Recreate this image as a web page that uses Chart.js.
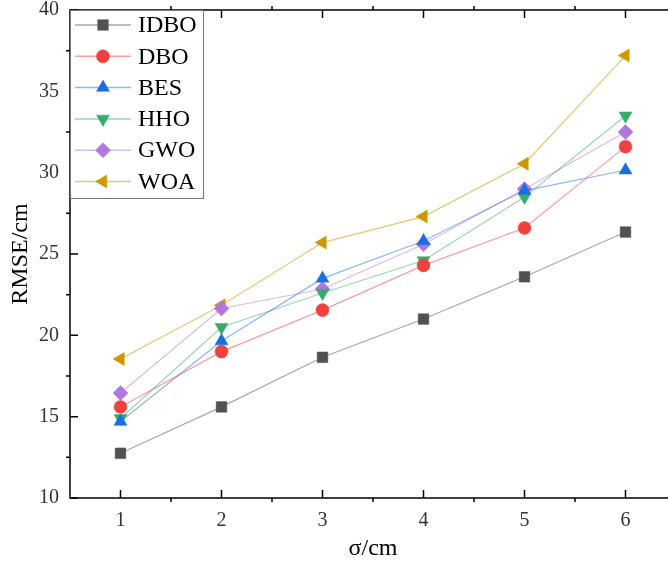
<!DOCTYPE html>
<html>
<head>
<meta charset="utf-8">
<script src="https://cdn.jsdelivr.net/npm/chart.js@4.4.0/dist/chart.umd.min.js"></script>
<style>
  html, body { margin: 0; padding: 0; background: #fff; overflow: hidden; }
  #wrap { width: 668px; height: 567px; overflow: hidden; }
</style>
</head>
<body>
<div id="wrap"><canvas id="rmse_canvas" width="684" height="567"></canvas></div>
<script>
// sigma values (x) and RMSE per algorithm
var sigma = [1, 2, 3, 4, 5, 6];
var names = ["IDBO", "DBO", "BES", "HHO", "GWO", "WOA"];
var idbo = [12.75, 15.6, 18.65, 21.0, 23.6, 26.35];
var dbo  = [15.6, 19.0, 21.55, 24.3, 26.6, 31.6];
var bes  = [14.7, 19.65, 23.5, 25.8, 28.9, 30.15];
var hho  = [14.9, 20.5, 22.6, 24.6, 28.5, 33.5];
var gwo  = [16.45, 21.65, 22.85, 25.6, 29.0, 32.5];
var woa  = [18.55, 21.85, 25.7, 27.3, 30.55, 37.2];
var yTicks = [10, 15, 20, 25, 30, 35, 40];

var colors = ["#515151", "#F14040", "#1A6FDF", "#37AD6B", "#B177DE", "#CC9900"];
var lineColors = ["rgba(81,81,81,0.5)", "rgba(241,64,64,0.5)", "rgba(26,111,223,0.5)",
                  "rgba(55,173,107,0.5)", "rgba(177,119,222,0.5)", "rgba(204,153,0,0.55)"];
var styles = ["rect", "circle", "triangle", "triangle", "rectRot", "triangle"];
var rotations = [0, 0, 0, 180, 0, -90];
var radii = [7.5, 6.5, 7.5, 7.5, 7.5, 7.5];
var series = [idbo, dbo, bes, hho, gwo, woa];

function toPts(arr){
    var out = [];
    for (var i in arr) out.push({x: sigma[i], y: arr[i]});
    return out;
}

var datasets = [];
for (var k = 0; k < series.length; k++) {
    datasets.push({
        label: names[k],
        data: toPts(series[k]),
        borderColor: lineColors[k],
        borderWidth: 1.2,
        backgroundColor: colors[k],
        pointBackgroundColor: colors[k],
        pointBorderColor: colors[k],
        pointBorderWidth: 0.5,
        pointStyle: styles[k],
        pointRotation: rotations[k],
        pointRadius: radii[k],
        fill: false,
        tension: 0
    });
}

// frame with ticks: major inward, minor outward
var framePlugin = {
    id: 'frame',
    afterDatasetsDraw: function(chart){
        var ctx = chart.ctx, a = chart.chartArea;
        var xs = chart.scales.x, ys = chart.scales.y;
        ctx.save();
        ctx.strokeStyle = "#000";
        ctx.lineWidth = 1.5;
        ctx.strokeRect(a.left, a.top, a.right - a.left, a.bottom - a.top);
        ctx.beginPath();
        for (var i = 0; i < sigma.length; i++) {
            var px = xs.getPixelForValue(sigma[i]);
            ctx.moveTo(px, a.bottom); ctx.lineTo(px, a.bottom - 8);
            ctx.moveTo(px, a.top); ctx.lineTo(px, a.top + 8);
            var mx = xs.getPixelForValue(sigma[i] + 0.5);
            if (i < sigma.length - 1) {
                ctx.moveTo(mx, a.bottom); ctx.lineTo(mx, a.bottom + 4);
                ctx.moveTo(mx, a.top); ctx.lineTo(mx, a.top - 4);
            }
        }
        for (var j = 0; j < yTicks.length; j++) {
            var py = ys.getPixelForValue(yTicks[j]);
            ctx.moveTo(a.left, py); ctx.lineTo(a.left + 8, py);
            ctx.moveTo(a.right, py); ctx.lineTo(a.right - 8, py);
            if (j < yTicks.length - 1) {
                var my = ys.getPixelForValue(yTicks[j] + 2.5);
                ctx.moveTo(a.left, my); ctx.lineTo(a.left - 4, my);
                ctx.moveTo(a.right, my); ctx.lineTo(a.right + 4, my);
            }
        }
        ctx.stroke();
        ctx.restore();
    }
};

// Origin style legend: line + marker + name
var legendPlugin = {
    id: 'originLegend',
    afterDraw: function(chart){
        var ctx = chart.ctx, a = chart.chartArea;
        var x0 = a.left, y0 = a.top, w = 133, h = 188, rowH = 31.3;
        ctx.save();
        ctx.fillStyle = "#fff";
        ctx.fillRect(x0, y0, w, h);
        ctx.strokeStyle = "#777";
        ctx.lineWidth = 1;
        ctx.strokeRect(x0 + 0.5, y0 + 0.5, w, h);
        chart.data.datasets.forEach(function(ds, i){
            var cy = y0 + 15 + i * rowH;
            ctx.strokeStyle = ds.borderColor;
            ctx.lineWidth = 1.5;
            ctx.beginPath();
            ctx.moveTo(x0 + 5, cy); ctx.lineTo(x0 + 61, cy);
            ctx.stroke();
            ctx.fillStyle = ds.pointBackgroundColor;
            ctx.strokeStyle = ds.pointBorderColor;
            ctx.lineWidth = 0.5;
            Chart.helpers.drawPoint(ctx, {
                pointStyle: ds.pointStyle, rotation: ds.pointRotation,
                radius: ds.pointRadius, borderWidth: 0.5
            }, x0 + 33, cy);
            ctx.fillStyle = "#000";
            ctx.font = "24px 'Liberation Serif'";
            ctx.textBaseline = "middle";
            ctx.textAlign = "left";
            ctx.fillText(ds.label, x0 + 68, cy + 1);
        });
        ctx.restore();
    }
};

var ctx1 = document.getElementById("rmse_canvas");
var chart = new Chart(ctx1, {
    type: 'line',
    data: { datasets: datasets },
    options: {
        responsive: false,
        animation: false,
        layout: { padding: { top: 10, right: 0, left: 0, bottom: 0 } },
        plugins: { legend: { display: false }, tooltip: { enabled: false } },
        scales: {
            x: {
                type: 'linear',
                min: 0.5, max: 6.5,
                afterFit: function(s){ s.height = 69; s.paddingLeft = 0; s.paddingRight = 0; },
                afterBuildTicks: function(s){ s.ticks = sigma.map(function(v){ return {value: v}; }); },
                grid: { display: false, drawTicks: false },
                border: { display: false },
                ticks: { padding: 11, color: "#333", font: { family: "'Liberation Serif'", size: 20 } },
                title: { display: true, text: "σ/cm", color: "#000", padding: { top: 4, bottom: 4 },
                         font: { family: "'Liberation Serif'", size: 24 } }
            },
            y: {
                min: 10, max: 40,
                afterFit: function(s){ s.width = 70; s.paddingTop = 0; s.paddingBottom = 0; },
                afterBuildTicks: function(s){ s.ticks = yTicks.map(function(v){ return {value: v}; }); },
                grid: { display: false, drawTicks: false },
                border: { display: false },
                ticks: { padding: 11, color: "#333", font: { family: "'Liberation Serif'", size: 20 } },
                title: { display: true, text: "RMSE/cm", color: "#000", padding: { top: 6, bottom: 4 },
                         font: { family: "'Liberation Serif'", size: 24 } }
            }
        }
    },
    plugins: [framePlugin, legendPlugin]
});
</script>
</body>
</html>
